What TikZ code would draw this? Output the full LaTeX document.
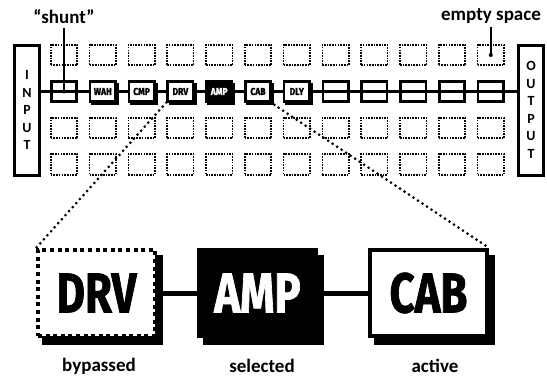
\documentclass[tikz,border=0pt]{standalone}
\usepackage{fontspec}
\setmainfont{Carlito}
\newfontfamily\tagfont{Fira Sans}[BoldFeatures={FakeBold=1.5}]

\tikzset{
  slot/.style={draw,dash pattern=on 1.6pt off 1.1pt,line width=1.6pt,minimum width=26.5pt,minimum height=20.5pt,inner sep=0pt},
  chain/.style={draw,line width=2.6pt,minimum width=25.5pt,minimum height=19.5pt,inner sep=0pt},
  fx/.style={chain,fill=white,font=\tagfont\bfseries\fontsize{10}{10}\selectfont},
  fxsel/.style={fx,fill=black,text=white},
  fxshadow/.style={chain,fill=black},
  io/.style={draw,line width=3pt,minimum width=25pt,minimum height=130pt,inner sep=0pt,align=center,
    font=\bfseries\fontsize{14}{17.5}\selectfont},
  big/.style={line width=4pt,minimum width=117pt,minimum height=86pt,inner sep=0pt,
    font=\tagfont\bfseries\fontsize{56}{56}\selectfont},
  bigshadow/.style={big,draw=black,fill=black},
  caption/.style={font=\bfseries\fontsize{19}{19}\selectfont},
  leader/.style={line width=1.7pt},
  zoomline/.style={line width=3pt,dash pattern=on 0pt off 5.4pt,line cap=round},
}

\begin{document}
\begin{tikzpicture}[x=1pt,y=-1pt]
\useasboundingbox (0,0) rectangle (547,380);

% input / output blocks
\node[io] (input) at (27,110) {I\\N\\P\\U\\T};
\node[io] (output) at (531,110) {O\\U\\T\\P\\U\\T};

% empty grid slots
\foreach \row in {0,2,3}
  \foreach \col in {0,...,11}
    \node[slot] (slot-\row-\col) at ({64+38.8*\col},{55+36.5*\row}) {};

% signal chain
\coordinate (s-left) at (input.east |- 0,91.5);
\coordinate (s-right) at (output.west |- 0,91.5);
\draw[line width=2.6pt] (s-left) -- (s-right);
\node[chain] (s0) at (64,91.5) {};
\foreach \lbl/\sty [count=\i] in {WAH/fx,CMP/fx,DRV/fx,AMP/fxsel,CAB/fx,DLY/fx} {
  \node[fxshadow] (s\i-shadow) at ({66.2+38.8*\i},93.7) {};
  \node[\sty] (s\i) at ({64+38.8*\i},91.5) {\scalebox{0.85}[1]{\lbl}};
}
\foreach \i in {7,...,11}
  \node[chain] (s\i) at ({64+38.8*\i},91.5) {};

% callouts
\node[caption] (shunt_label) at (64,17) {“shunt”};
\draw[leader] (shunt_label.south) -- (s0.center);
\fill (s0.center) circle (2pt);
\node[caption] (empty_label) at (491,16) {empty space};
\draw[leader] (empty_label.south -| slot-0-11) -- (slot-0-11.center);
\fill (slot-0-11.center) circle (2pt);

% close-up of three blocks
\node[bigshadow] (drv-shadow) at (102.5,300) {};
\node[bigshadow] (amp-shadow) at (263.5,300) {};
\node[bigshadow] (cab-shadow) at (434.5,300) {};
\node[big,draw,dash pattern=on 4pt off 3.6pt,fill=white] (drv) at (96.5,293) {\scalebox{0.78}[1]{DRV}};
\node[big,draw,fill=black,text=white] (amp) at (257.5,293) {\scalebox{0.78}[1]{AMP}};
\node[big,draw,fill=white] (cab) at (428.5,293) {\scalebox{0.78}[1]{CAB}};
\draw[line width=5pt] (drv-shadow.east |- drv.east) -- (amp.west);
\draw[line width=5pt] (amp-shadow.east |- amp.east) -- (cab.west);

\draw[zoomline] (s3.south west) -- (drv.north west);
\draw[zoomline] (s5-shadow.south east) -- (cab.north east);

\node[caption] (bypassed_label) at (99,366) {bypassed};
\node[caption] (selected_label) at (262,366) {selected};
\node[caption] (active_label) at (435,366) {active};

\end{tikzpicture}
\end{document}
